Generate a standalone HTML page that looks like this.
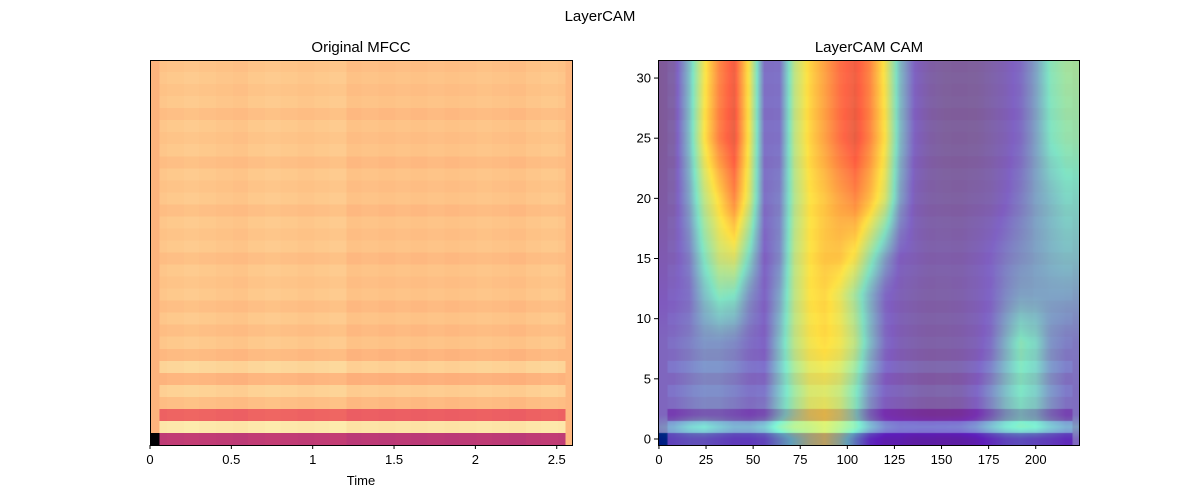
<!DOCTYPE html>
<html><head><meta charset="utf-8"><style>
body{margin:0;background:#fff;width:1200px;height:500px;overflow:hidden;position:relative;font-family:"Liberation Sans","DejaVu Sans",sans-serif}
canvas{position:absolute}
svg{position:absolute;left:0;top:0}
</style></head><body>
<canvas id="cl" width="224" height="32" style="left:150px;top:60px;width:423px;height:385px;image-rendering:pixelated"></canvas>
<canvas id="cr" width="224" height="384" style="left:658px;top:60px;width:422px;height:385px"></canvas>
<svg id="ov" width="1200" height="500" font-family="Liberation Sans, DejaVu Sans, sans-serif">
<text x="600" y="21" text-anchor="middle" font-size="15">LayerCAM</text>
<text x="361" y="52" text-anchor="middle" font-size="15">Original MFCC</text>
<text x="869" y="52" text-anchor="middle" font-size="15">LayerCAM CAM</text>
<text x="361" y="485" text-anchor="middle" font-size="13">Time</text>
<rect x="150.5" y="60.5" width="422" height="385" fill="none" stroke="#000"/>
<rect x="658.5" y="60.5" width="421" height="385" fill="none" stroke="#000"/>
<g id="ticks"></g>
</svg>
<script>
// MFCC row levels (row 0 = bottom), magma scale 0..1
const mfccRows=[0.52,0.95,0.66,0.86,0.9,0.84,0.91,0.85,0.88,0.86,0.88,0.86,0.88,0.87,0.88,0.86,0.88,0.87,0.88,0.86,0.88,0.87,0.88,0.86,0.88,0.87,0.88,0.86,0.88,0.87,0.88,0.87];
const timeMod=[0,0.005,0.01,0.005,0,-0.005,0.005,0.01,0.005,0,0.005,0.01,-0.01,-0.005,-0.01,-0.005,-0.01,-0.005,-0.01,-0.005,0,-0.005,-0.01,0,0.005,0];
// CAM coarse grid
const camCols=[0,8,16,24,32,40,48,56,64,72,80,88,96,104,112,120,128,136,144,152,160,168,176,184,192,200,208,216,224];
const camRows=[0,1,2,4,8,12,15,20,25,31];
const camVals=[
[.18,.2,.22,.22,.2,.18,.18,.2,.3,.4,.5,.55,.45,.3,.15,.1,.1,.08,.08,.08,.08,.1,.15,.2,.22,.2,.18,.15,.15],
[.22,.25,.32,.35,.3,.26,.26,.3,.42,.5,.52,.56,.5,.42,.28,.18,.15,.15,.15,.15,.16,.2,.28,.36,.4,.38,.3,.25,.25],
[.15,.15,.18,.2,.2,.18,.16,.18,.32,.45,.55,.58,.52,.4,.22,.12,.1,.08,.07,.07,.08,.12,.2,.3,.36,.32,.22,.16,.16],
[.15,.15,.18,.2,.2,.18,.15,.15,.3,.45,.55,.56,.52,.4,.22,.12,.1,.08,.07,.07,.08,.12,.2,.3,.38,.33,.22,.16,.16],
[.15,.15,.18,.22,.22,.2,.15,.12,.3,.5,.6,.64,.6,.5,.3,.15,.1,.08,.07,.07,.08,.1,.15,.28,.4,.35,.22,.18,.18],
[.12,.12,.15,.3,.4,.38,.22,.12,.25,.5,.62,.65,.58,.45,.28,.14,.1,.08,.07,.07,.08,.1,.13,.2,.25,.25,.25,.25,.25],
[.1,.1,.18,.38,.52,.55,.35,.12,.2,.5,.62,.68,.68,.6,.42,.25,.12,.1,.08,.08,.08,.1,.13,.18,.22,.25,.28,.3,.3],
[.07,.08,.25,.5,.65,.8,.55,.15,.18,.48,.62,.68,.75,.8,.7,.55,.25,.1,.07,.06,.06,.07,.08,.12,.18,.25,.3,.35,.35],
[.05,.07,.3,.62,.82,.92,.6,.15,.15,.5,.65,.75,.85,.92,.8,.62,.3,.12,.07,.05,.05,.05,.07,.1,.15,.25,.38,.42,.42],
[.05,.07,.3,.6,.8,.9,.6,.15,.15,.5,.65,.75,.85,.9,.8,.6,.3,.12,.07,.05,.05,.05,.07,.1,.15,.25,.4,.45,.45]];
const xTicksL=[0,0.5,1,1.5,2,2.5], xTickLabelsL=["0","0.5","1","1.5","2","2.5"];
const xTicksR=[0,25,50,75,100,125,150,175,200];
const yTicksR=[0,5,10,15,20,25,30];

const magma=[[0,[0,0,4]],[.125,[29,17,71]],[.25,[81,18,124]],[.375,[130,38,129]],[.5,[183,55,121]],[.625,[231,82,99]],[.75,[252,137,97]],[.875,[254,196,136]],[1,[252,253,191]]];
const jet=[[0,[0,0,128]],[.125,[0,0,255]],[.375,[0,255,255]],[.5,[128,255,128]],[.625,[255,255,0]],[.875,[255,0,0]],[1,[128,0,0]]];
function cmap(st,v){v=Math.max(0,Math.min(1,v));for(let i=1;i<st.length;i++){if(v<=st[i][0]){const a=st[i-1],b=st[i],t=(v-a[0])/(b[0]-a[0]);return a[1].map((c,k)=>c+(b[1][k]-c)*t);}}return st[st.length-1][1];}
function mfcc(r,c){if(c<5)return r==0?0:0.84;if(c>=220)return 0.85;return mfccRows[r]+timeMod[Math.min(25,Math.floor(c/224*26))];}
function interp1(arr,x){let i=0;while(i<arr.length-2&&x>arr[i+1])i++;return [i,Math.max(0,Math.min(1,(x-arr[i])/(arr[i+1]-arr[i])))];}
function cam(x,y){const [i,tx]=interp1(camCols,x),[j,ty]=interp1(camRows,y);const a=camVals[j][i]*(1-tx)+camVals[j][i+1]*tx,b=camVals[j+1][i]*(1-tx)+camVals[j+1][i+1]*tx;return a*(1-ty)+b*ty;}
// left
const cl=document.getElementById('cl').getContext('2d'),il=cl.createImageData(224,32);
for(let r=0;r<32;r++)for(let c=0;c<224;c++){const col=cmap(magma,mfcc(r,c)),p=((31-r)*224+c)*4;il.data[p]=col[0];il.data[p+1]=col[1];il.data[p+2]=col[2];il.data[p+3]=255;}
cl.putImageData(il,0,0);
// right
const cr=document.getElementById('cr').getContext('2d'),ir=cr.createImageData(224,384);
for(let py=0;py<384;py++){const y=(383-py)/12-0.5+1/24;const r=Math.max(0,Math.min(31,Math.round(y)));
for(let c=0;c<224;c++){const m=cmap(magma,mfcc(r,c)),j=cmap(jet,cam(c,Math.max(0,y))),p=(py*224+c)*4;
ir.data[p]=(m[0]+j[0])/2;ir.data[p+1]=(m[1]+j[1])/2;ir.data[p+2]=(m[2]+j[2])/2;ir.data[p+3]=255;}}
cr.putImageData(ir,0,0);
// ticks
const g=document.getElementById('ticks'),NS='http://www.w3.org/2000/svg';
function el(t,a){const e=document.createElementNS(NS,t);for(const k in a)e.setAttribute(k,a[k]);g.appendChild(e);return e;}
const xL=v=>150+v/2.6*423, xR=v=>658+(v+0.5)*422/224, yR=v=>445-(v+0.5)*385/32;
xTicksL.forEach((v,i)=>{const l=el('line',{x1:xL(v),x2:xL(v),y1:445,y2:449,stroke:'#000'});

const t=el('text',{x:xL(v),y:464,'text-anchor':'middle','font-size':13});t.textContent=xTickLabelsL[i];
});
xTicksR.forEach(v=>{const l=el('line',{x1:xR(v),x2:xR(v),y1:445,y2:449,stroke:'#000'});

const t=el('text',{x:xR(v),y:464,'text-anchor':'middle','font-size':13});t.textContent=v;
});
yTicksR.forEach(v=>{const l=el('line',{x1:654,x2:658,y1:yR(v),y2:yR(v),stroke:'#000'});

const t=el('text',{x:651,y:yR(v)+4.5,'text-anchor':'end','font-size':13});t.textContent=v;
});
</script>
</body></html>
